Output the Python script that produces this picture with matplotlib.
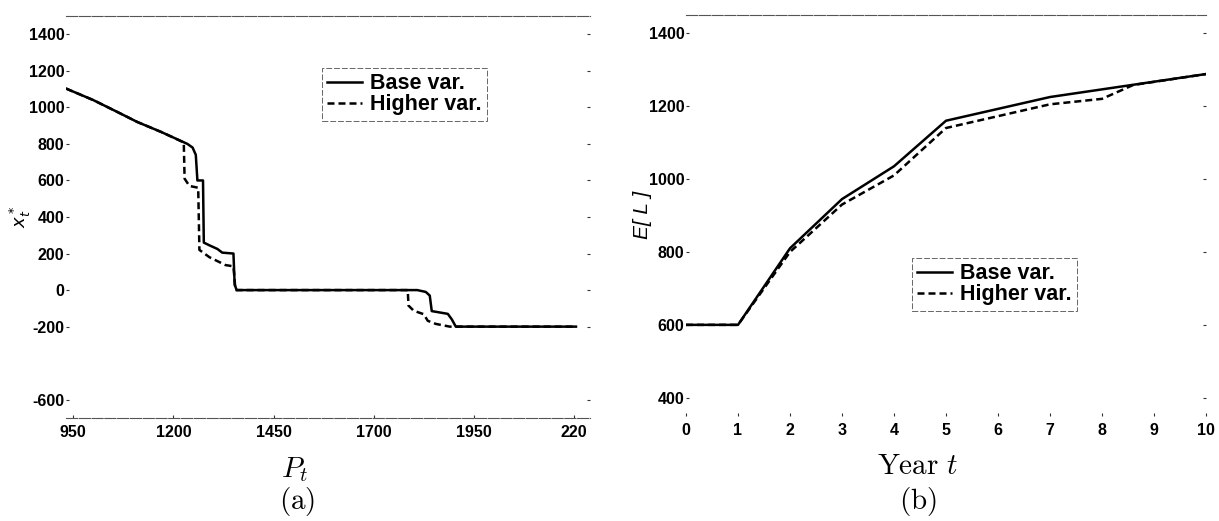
import matplotlib
matplotlib.use("Agg")
import matplotlib.pyplot as plt

plt.rcParams["font.family"] = ["Liberation Sans", "DejaVu Sans"]

# panel (a): optimal x_t^* against price P_t
p_base = [932, 1000, 1060, 1110, 1170, 1235, 1248, 1256, 1260, 1274, 1276, 1290, 1310,
          1322, 1350, 1353, 1358, 1809, 1830, 1840, 1845, 1885, 1895, 1905, 2205]
x_base = [1103, 1040, 975, 920, 865, 800, 780, 740, 600, 600, 260, 245, 225,
          205, 200, 30, 0, 0, -10, -30, -115, -130, -160, -200, -200]
p_high = [932, 1000, 1060, 1110, 1170, 1226, 1228, 1240, 1262, 1265, 1290, 1330,
          1350, 1355, 1785, 1787, 1800, 1825, 1835, 1855, 1890, 2205]
x_high = [1103, 1040, 975, 920, 865, 808, 610, 570, 560, 220, 180, 137,
          130, 0, 0, -85, -113, -132, -168, -185, -200, -200]

# panel (b): expected level E[L] by year
t_base = [0, 1, 2, 3, 4, 5, 7, 10]
l_base = [600, 600, 810, 945, 1035, 1160, 1225, 1288]
t_high = [0, 1, 2, 3, 4, 5, 7, 8, 8.6, 10]
l_high = [600, 600, 800, 930, 1010, 1140, 1205, 1220, 1258, 1288]

a_xticks = [950, 1200, 1450, 1700, 1950, 2200]
a_xlabels = ["950", "1200", "1450", "1700", "1950", "220"]
a_yticks = [1400, 1200, 1000, 800, 600, 400, 200, 0, -200, -600]
b_xticks = list(range(0, 11))
b_yticks = [400, 600, 800, 1000, 1200, 1400]

W, H = 1219, 521
fig = plt.figure(figsize=(W / 100, H / 100), dpi=100)
ax1 = fig.add_axes([66 / W, 1 - 418 / H, 524 / W, 402 / H])
ax2 = fig.add_axes([686 / W, 1 - 416 / H, 520 / W, 401 / H])

lw = 1.8
dash = (2.8, 1.6)
tick_font = dict(fontsize=11.5, fontweight="bold")

ax1.plot(p_base, x_base, color="black", lw=lw, label="Base var.")
ax1.plot(p_high, x_high, color="black", lw=lw, dashes=dash, label="Higher var.")
ax2.plot(t_base, l_base, color="black", lw=lw, label="Base var.")
ax2.plot(t_high, l_high, color="black", lw=lw, dashes=dash, label="Higher var.")

ax1.set_xlim(932, 2240)
ax1.set_ylim(-700, 1500)
ax1.set_xticks(a_xticks)
ax1.set_xticklabels(a_xlabels, **tick_font)
ax1.set_yticks(a_yticks)
ax1.set_yticklabels([str(v) for v in a_yticks], **tick_font)

ax2.set_xlim(0, 10)
ax2.set_ylim(350, 1450)
ax2.set_xticks(b_xticks)
ax2.set_xticklabels([str(v) for v in b_xticks], **tick_font)
ax2.set_yticks(b_yticks)
ax2.set_yticklabels([str(v) for v in b_yticks], **tick_font)

for ax, show_bottom in ((ax1, True), (ax2, False)):
    ax.spines["left"].set_visible(False)
    ax.spines["right"].set_visible(False)
    ax.spines["top"].set_color("#555555")
    ax.spines["top"].set_linewidth(0.8)
    ax.spines["top"].set_linestyle((0, (10, 1.5)))
    ax.spines["bottom"].set_visible(show_bottom)
    ax.spines["bottom"].set_color("#555555")
    ax.spines["bottom"].set_linewidth(0.8)
    ax.spines["bottom"].set_linestyle((0, (10, 1.5)))
    ax.tick_params(axis="y", which="both", left=True, right=True, direction="in",
                   length=2.5, width=0.8, color="#333333", pad=1)
    ax.tick_params(axis="x", which="both", bottom=True, top=False, direction="in",
                   length=2.5, width=0.8, color="#333333", pad=5)

leg_kw = dict(prop={"weight": "bold", "size": 15.5}, handlelength=1.6,
              handletextpad=0.4, labelspacing=0.0, borderpad=0.25,
              fancybox=False, framealpha=1, borderaxespad=0)
leg1 = ax1.legend(loc="upper left", bbox_to_anchor=(322 / W, 1 - 68 / H),
                  bbox_transform=fig.transFigure, **leg_kw)
leg2 = ax2.legend(loc="upper left", bbox_to_anchor=(912 / W, 1 - 258 / H),
                  bbox_transform=fig.transFigure, **leg_kw)
for leg in (leg1, leg2):
    fr = leg.get_frame()
    fr.set_edgecolor("#666666")
    fr.set_linewidth(0.7)
    fr.set_linestyle((0, (6, 2)))

fig.text(20 / W, 1 - 217 / H, r"$x_t^*$", rotation=90, ha="center", va="center",
         fontsize=13, math_fontfamily="dejavusans")
fig.text(643 / W, 1 - 215 / H, "E[ L ]", rotation=90, ha="center", va="center",
         fontsize=15, style="italic")

fig.text(295 / W, 1 - 470 / H, r"$P_t$", ha="center", va="center",
         fontsize=21, math_fontfamily="cm")
fig.text(297 / W, 1 - 502 / H, r"$\mathrm{(a)}$", ha="center", va="center",
         fontsize=21, math_fontfamily="cm")
fig.text(917 / W, 1 - 466 / H, r"$\mathrm{Year}\ t$", ha="center", va="center",
         fontsize=21, math_fontfamily="cm")
fig.text(918 / W, 1 - 502 / H, r"$\mathrm{(b)}$", ha="center", va="center",
         fontsize=21, math_fontfamily="cm")

fig.savefig("out.png", dpi=100)
